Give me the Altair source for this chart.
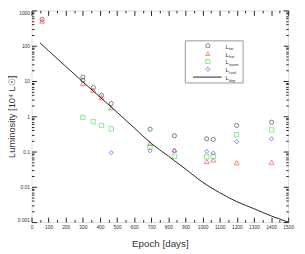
import altair as alt
import pandas as pd

# ---------------- data ----------------
x_ticks = [0, 100, 200, 300, 400, 500, 600, 700, 800, 900, 1000, 1100, 1200, 1300, 1400, 1500]
x_minor = [50, 150, 250, 350, 450, 550, 650, 750, 850, 950, 1050, 1150, 1250, 1350, 1450]
y_ticks = [0.001, 0.01, 0.1, 1, 10, 100, 1000]
y_minor = [k * d for d in [0.001, 0.01, 0.1, 1, 10, 100] for k in range(2, 10)]

tot_epoch = [62, 300, 300, 361, 409, 466, 693, 835, 1024, 1062, 1199, 1403]
tot_lum = [560, 13, 10.5, 6.5, 3.9, 2.3, 0.43, 0.28, 0.23, 0.22, 0.55, 0.68]

hot_epoch = [62, 300, 361, 409, 466, 693, 835, 1024, 1062, 1199, 1403]
hot_lum = [500, 8.5, 5.5, 3.4, 1.75, 0.17, 0.11, 0.052, 0.058, 0.048, 0.05]

warm_epoch = [300, 361, 409, 466, 693, 835, 1024, 1062, 1199, 1403]
warm_lum = [0.93, 0.71, 0.55, 0.44, 0.135, 0.073, 0.071, 0.072, 0.30, 0.41]

cool_epoch = [466, 693, 835, 1024, 1062, 1199, 1403]
cool_lum = [0.093, 0.105, 0.105, 0.10, 0.09, 0.19, 0.23]

dep_epoch = [50, 100, 200, 300, 400, 500, 600, 700, 800, 900, 1000, 1100, 1200, 1300, 1400, 1500]
dep_lum = [120, 72, 26, 9.5, 3.5, 1.3, 0.47, 0.17, 0.074, 0.032, 0.0135, 0.0068, 0.0038, 0.0024, 0.0015, 0.001]

legend_subs = ["tot", "hot", "warm", "cool", "dep"]
legend_shapes = ["circle", "triangle-up", "square", "diamond"]
legend_colors = ["#333333", "#ff3333", "#44e044", "#3333ff"]

# ---------------- styling ----------------
W, H = 262, 216
PADL = 24
FONT = "Liberation Sans"
TXT = "#333333"

xscale = alt.Scale(domain=[0, 1500], nice=False, zero=False)
yscale = alt.Scale(type="log", domain=[0.001, 1000], nice=False)


def tick_axis(orient, values, size):
    return alt.Axis(orient=orient, values=values, labels=False, domain=False, grid=False,
                    ticks=True, tickSize={"expr": str(-size)}, tickColor="#222222",
                    tickWidth=1, title=None)


x_label_axis = alt.Axis(orient="bottom", values=x_ticks, format="d", ticks=False, domain=False,
                        grid=False, labelFont=FONT, labelFontSize=5, labelColor=TXT,
                        labelOverlap=False, labelFlush=False, labelPadding=3,
                        title="Epoch [days]", titleFont=FONT, titleFontSize=10,
                        titleFontWeight="normal", titleColor=TXT, titlePadding=9)
y_label_axis = alt.Axis(orient="left", values=y_ticks, format="~g", ticks=False, domain=False,
                        grid=False, labelFont=FONT, labelFontSize=5, labelColor=TXT,
                        labelOverlap=False, labelPadding=2, labelFlush=True,
                        title="Luminosity [10⁴ L☉]", titleFont=FONT, titleFontSize=9.5,
                        titleFontWeight="normal", titleColor=TXT, titlePadding=1)


def series(epoch, lum, xaxis, yaxis, **mark):
    df = pd.DataFrame({"epoch": epoch, "lum": lum})
    return alt.Chart(df).mark_point(filled=False, strokeWidth=0.9, **mark).encode(
        x=alt.X("epoch:Q", scale=xscale, axis=xaxis),
        y=alt.Y("lum:Q", scale=yscale, axis=yaxis),
    )


tot = series(tot_epoch, tot_lum, x_label_axis, y_label_axis,
             shape="circle", color=legend_colors[0], size=18)
hot = series(hot_epoch, hot_lum, tick_axis("bottom", x_ticks, 5), tick_axis("left", y_ticks, 5),
             shape="triangle-up", color=legend_colors[1], size=24)
warm = series(warm_epoch, warm_lum, tick_axis("bottom", x_minor, 2.5), tick_axis("left", y_minor, 2.5),
              shape="square", color=legend_colors[2], size=20)
cool = series(cool_epoch, cool_lum, tick_axis("top", x_ticks, 5), tick_axis("right", y_ticks, 5),
              shape="diamond", color=legend_colors[3], size=18)

dep = alt.Chart(pd.DataFrame({"epoch": dep_epoch, "lum": dep_lum})).mark_line(
    color="#222222", strokeWidth=1, clip=True, interpolate="monotone"
).encode(
    x=alt.X("epoch:Q", scale=xscale, axis=tick_axis("top", x_minor, 2.5)),
    y=alt.Y("lum:Q", scale=yscale, axis=tick_axis("right", y_minor, 2.5)),
)

# ---------------- hand-made legend (pixel coordinates inside plot) ----------------
OFFX = 8 + PADL
LX0, LX1, LY0, LY1 = 189 - OFFX, 248 - OFFX, 31, 74
ROW0, ROWSTEP = 36, 8
SYMX = 212 - OFFX
LINEX0, LINEX1 = 197 - OFFX, 226 - OFFX
LTX = 230 - OFFX

leg_box = alt.Chart(pd.DataFrame({"a": [0]})).mark_rect(
    fill="white", stroke="#999999", strokeWidth=1
).encode(x=alt.value(LX0), x2=alt.value(LX1), y=alt.value(LY0), y2=alt.value(LY1))

sym_df = pd.DataFrame({"shape": legend_shapes, "color": legend_colors, "row": list(range(4))})
leg_sym = alt.Chart(sym_df).transform_calculate(
    px=f"{SYMX}", py=f"{ROW0} + {ROWSTEP} * datum.row"
).mark_point(filled=False, strokeWidth=0.9, size=18).encode(
    x=alt.X("px:Q", scale=None), y=alt.Y("py:Q", scale=None),
    shape=alt.Shape("shape:N", scale=None), color=alt.Color("color:N", scale=None),
)

leg_line = alt.Chart(pd.DataFrame({"a": [0]})).mark_rule(color="#222222", strokeWidth=1).encode(
    x=alt.value(LINEX0), x2=alt.value(LINEX1), y=alt.value(ROW0 + 4 * ROWSTEP)
)

txt_df = pd.DataFrame({"sub": legend_subs, "row": list(range(5))})
leg_L = alt.Chart(txt_df).transform_calculate(
    px=f"{LTX}", py=f"{ROW0} + 3 + {ROWSTEP} * datum.row"
).mark_text(font=FONT, fontSize=6, color=TXT, align="left", baseline="alphabetic").encode(
    x=alt.X("px:Q", scale=None), y=alt.Y("py:Q", scale=None), text=alt.value("L")
)
leg_sub = alt.Chart(txt_df).transform_calculate(
    px=f"{LTX + 3.6}", py=f"{ROW0} + 4.5 + {ROWSTEP} * datum.row"
).mark_text(font=FONT, fontSize=4, color=TXT, align="left", baseline="alphabetic").encode(
    x=alt.X("px:Q", scale=None), y=alt.Y("py:Q", scale=None), text="sub:N"
)

chart = alt.layer(
    tot, hot, warm, cool, dep, leg_box, leg_sym, leg_line, leg_L, leg_sub
).resolve_axis(x="independent", y="independent").properties(
    width=W, height=H,
    autosize=alt.AutoSizeParams(type="none"),
    padding={"left": PADL, "top": 0, "right": 9, "bottom": 28},
).configure_view(stroke="#111111", strokeWidth=1).configure(background="white")

chart.save("out.html", embed_options={"renderer": "svg", "actions": False})
